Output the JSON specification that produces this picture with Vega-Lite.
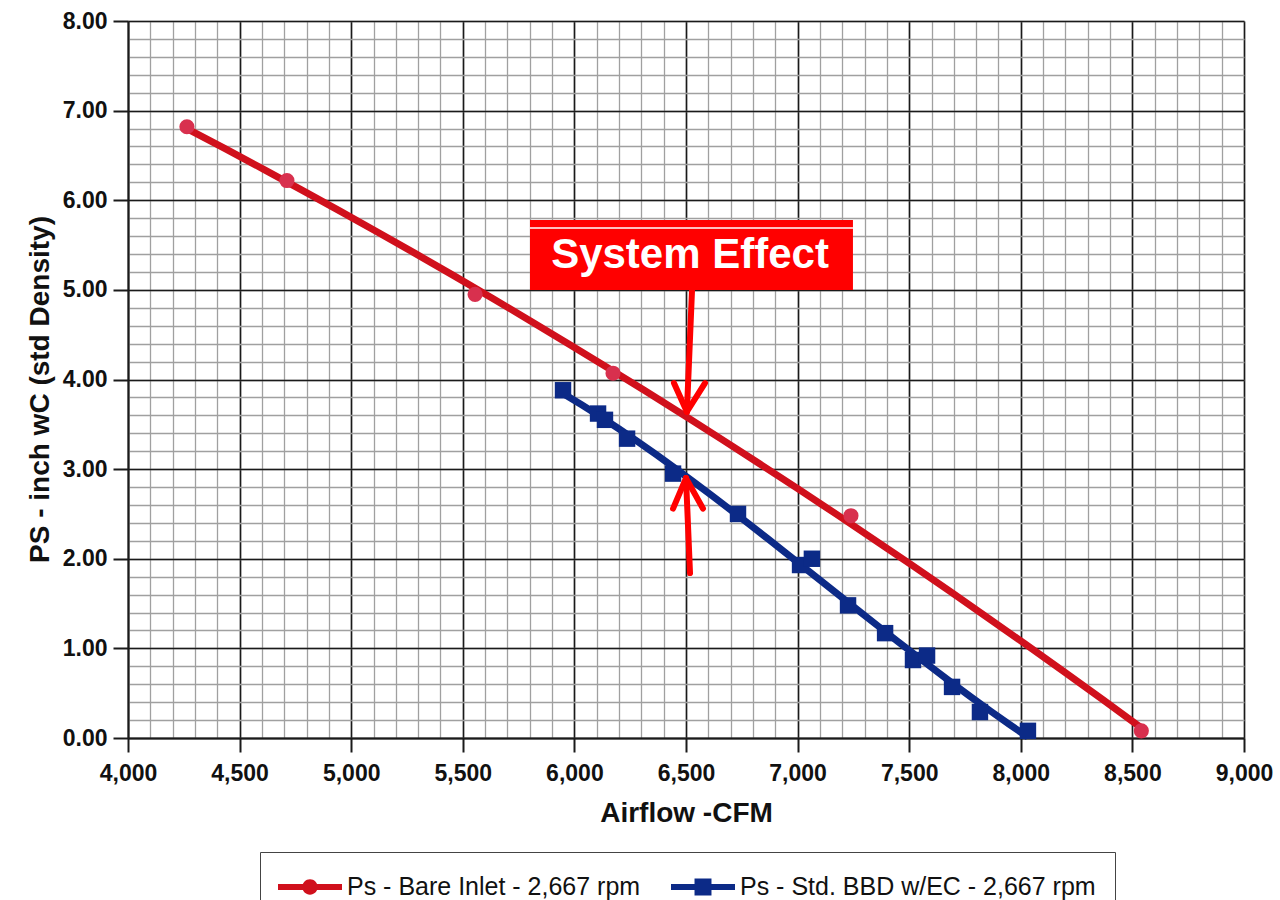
{
  "$schema": "https://vega.github.io/schema/vega-lite/v6.json",
  "autosize": "none",
  "width": 1116,
  "height": 717,
  "padding": {"left": 128, "top": 21, "right": 36, "bottom": 162},
  "background": "white",
  "config": {
    "view": {"stroke": null},
    "axis": {
      "labelFont": "Liberation Sans",
      "labelFontWeight": "bold",
      "labelColor": "#111111",
      "titleFont": "Liberation Sans",
      "titleFontWeight": "bold",
      "titleFontSize": 28,
      "titleColor": "#111111",
      "labelFlush": false,
      "labelBound": false,
      "labelOverlap": false
    },
    "legend": {
      "labelFont": "Liberation Sans",
      "labelFontSize": 25,
      "labelColor": "#111111"
    }
  },
  "datasets": {
    "pts": [
      {"series": "Ps - Bare Inlet - 2,667 rpm", "cfm": 4264, "ps": 6.82},
      {"series": "Ps - Bare Inlet - 2,667 rpm", "cfm": 4712, "ps": 6.22},
      {"series": "Ps - Bare Inlet - 2,667 rpm", "cfm": 5555, "ps": 4.95},
      {"series": "Ps - Bare Inlet - 2,667 rpm", "cfm": 6173, "ps": 4.07},
      {"series": "Ps - Bare Inlet - 2,667 rpm", "cfm": 7239, "ps": 2.48},
      {"series": "Ps - Bare Inlet - 2,667 rpm", "cfm": 8540, "ps": 0.08},
      {"series": "Ps - Std. BBD w/EC - 2,667 rpm", "cfm": 5949, "ps": 3.88},
      {"series": "Ps - Std. BBD w/EC - 2,667 rpm", "cfm": 6106, "ps": 3.62},
      {"series": "Ps - Std. BBD w/EC - 2,667 rpm", "cfm": 6137, "ps": 3.55},
      {"series": "Ps - Std. BBD w/EC - 2,667 rpm", "cfm": 6236, "ps": 3.34},
      {"series": "Ps - Std. BBD w/EC - 2,667 rpm", "cfm": 6442, "ps": 2.95},
      {"series": "Ps - Std. BBD w/EC - 2,667 rpm", "cfm": 6733, "ps": 2.5},
      {"series": "Ps - Std. BBD w/EC - 2,667 rpm", "cfm": 7011, "ps": 1.93},
      {"series": "Ps - Std. BBD w/EC - 2,667 rpm", "cfm": 7064, "ps": 2.0},
      {"series": "Ps - Std. BBD w/EC - 2,667 rpm", "cfm": 7226, "ps": 1.48},
      {"series": "Ps - Std. BBD w/EC - 2,667 rpm", "cfm": 7392, "ps": 1.17},
      {"series": "Ps - Std. BBD w/EC - 2,667 rpm", "cfm": 7517, "ps": 0.87},
      {"series": "Ps - Std. BBD w/EC - 2,667 rpm", "cfm": 7580, "ps": 0.92},
      {"series": "Ps - Std. BBD w/EC - 2,667 rpm", "cfm": 7692, "ps": 0.57},
      {"series": "Ps - Std. BBD w/EC - 2,667 rpm", "cfm": 7817, "ps": 0.29},
      {"series": "Ps - Std. BBD w/EC - 2,667 rpm", "cfm": 8032, "ps": 0.08}
    ],
    "box": [{"cfm": 5801, "cfm2": 7248, "ps": 5.0, "ps2": 5.78}],
    "gap": [{"cfm": 5801, "cfm2": 7248, "ps": 5.69}],
    "label": [{"text": "System Effect", "cfm": 6518, "ps": 5.24}],
    "arrows": [
      {"cfm": 6527, "ps": 5.0, "cfm2": 6504, "ps2": 3.64},
      {"cfm": 6446, "ps": 3.96, "cfm2": 6504, "ps2": 3.64},
      {"cfm": 6585, "ps": 3.96, "cfm2": 6504, "ps2": 3.64},
      {"cfm": 6518, "ps": 1.84, "cfm2": 6500, "ps2": 2.9},
      {"cfm": 6442, "ps": 2.56, "cfm2": 6500, "ps2": 2.9},
      {"cfm": 6576, "ps": 2.56, "cfm2": 6500, "ps2": 2.9}
    ]
  },
  "resolve": {"axis": {"x": "independent", "y": "independent"}},
  "layer": [
    {
      "data": {"name": "pts"},
      "mark": {"type": "point", "filled": true, "opacity": 0},
      "encoding": {
        "x": {
          "field": "cfm", "type": "quantitative",
          "scale": {"domain": [4000, 9000], "nice": false, "zero": false},
          "axis": {
            "orient": "bottom", "title": null, "labels": false, "ticks": false, "domain": false,
            "grid": true, "gridColor": "#a0a0a0", "gridWidth": 1.3,
            "values": [4000,4100,4200,4300,4400,4500,4600,4700,4800,4900,5000,5100,5200,5300,5400,5500,5600,5700,5800,5900,6000,6100,6200,6300,6400,6500,6600,6700,6800,6900,7000,7100,7200,7300,7400,7500,7600,7700,7800,7900,8000,8100,8200,8300,8400,8500,8600,8700,8800,8900,9000]
          }
        },
        "y": {
          "field": "ps", "type": "quantitative",
          "scale": {"domain": [0, 8], "nice": false, "zero": true},
          "axis": {
            "orient": "left", "title": null, "labels": false, "ticks": false, "domain": false,
            "grid": true, "gridColor": "#a0a0a0", "gridWidth": 1.3,
            "values": [0,0.2,0.4,0.6,0.8,1,1.2,1.4,1.6,1.8,2,2.2,2.4,2.6,2.8,3,3.2,3.4,3.6,3.8,4,4.2,4.4,4.6,4.8,5,5.2,5.4,5.6,5.8,6,6.2,6.4,6.6,6.8,7,7.2,7.4,7.6,7.8,8]
          }
        },
        "color": {
          "field": "series", "type": "nominal",
          "scale": {"domain": ["Ps - Bare Inlet - 2,667 rpm", "Ps - Std. BBD w/EC - 2,667 rpm"], "range": ["#d0101c", "#0c2a87"]},
          "legend": {
            "title": null, "orient": "none", "direction": "horizontal",
            "legendX": 132, "legendY": 831,
            "strokeColor": "#444444", "fillColor": "white", "padding": 19,
            "symbolSize": 1024, "symbolOffset": 15, "labelOffset": 21,
            "columnPadding": 30, "symbolOpacity": 1, "symbolStrokeWidth": 0,
            "labelLimit": 600
          }
        },
        "shape": {
          "field": "series", "type": "nominal",
          "scale": {"domain": ["Ps - Bare Inlet - 2,667 rpm", "Ps - Std. BBD w/EC - 2,667 rpm"], "range": ["M-2,-0.18H2V0.18H-2Z M-0.48,0A0.48,0.48 0 1,1 0.48,0A0.48,0.48 0 1,1 -0.48,0Z", "M-2,-0.18H2V0.18H-2Z M-0.53,-0.53H0.53V0.53H-0.53Z"]},
          "legend": {
            "title": null, "orient": "none", "direction": "horizontal",
            "legendX": 132, "legendY": 831,
            "strokeColor": "#444444", "fillColor": "white", "padding": 19,
            "symbolSize": 1024, "symbolOffset": 15, "labelOffset": 21,
            "columnPadding": 30, "symbolOpacity": 1, "symbolStrokeWidth": 0,
            "labelLimit": 600
          }
        }
      }
    },
    {
      "data": {"name": "pts"},
      "transform": [
        {"filter": "datum.series === 'Ps - Bare Inlet - 2,667 rpm'"},
        {"regression": "ps", "on": "cfm", "method": "poly", "order": 2, "extent": [4264, 8540]}
      ],
      "mark": {"type": "line", "color": "#d0101c", "strokeWidth": 7},
      "encoding": {
        "x": {
          "field": "cfm", "type": "quantitative",
          "scale": {"domain": [4000, 9000], "nice": false, "zero": false},
          "axis": {
            "orient": "bottom", "values": [4000,4500,5000,5500,6000,6500,7000,7500,8000,8500,9000],
            "labelExpr": "format(datum.value, ',.0f')",
            "grid": true, "gridColor": "#1a1a1a", "gridWidth": 1.6,
            "domainColor": "#1a1a1a", "domainWidth": 2, "tickColor": "#1a1a1a", "tickWidth": 2, "tickSize": 14,
            "labelFontSize": 23, "labelPadding": 10,
            "title": "Airflow -CFM", "titlePadding": 14
          }
        },
        "y": {
          "field": "ps", "type": "quantitative",
          "scale": {"domain": [0, 8], "nice": false},
          "axis": {
            "orient": "left", "values": [0,1,2,3,4,5,6,7,8],
            "labelExpr": "format(datum.value, '.2f')",
            "grid": true, "gridColor": "#1a1a1a", "gridWidth": 1.6,
            "domainColor": "#1a1a1a", "domainWidth": 2, "tickColor": "#1a1a1a", "tickWidth": 2, "tickSize": 15,
            "labelFontSize": 23, "labelPadding": 6,
            "title": "PS - inch wC (std Density)", "titlePadding": 8, "titleY": 368
          }
        }
      }
    },
    {
      "data": {"name": "pts"},
      "transform": [
        {"filter": "datum.series === 'Ps - Std. BBD w/EC - 2,667 rpm'"},
        {"regression": "ps", "on": "cfm", "method": "poly", "order": 3, "extent": [5949, 8032]}
      ],
      "mark": {"type": "line", "color": "#0c2a87", "strokeWidth": 7},
      "encoding": {
        "x": {"field": "cfm", "type": "quantitative", "scale": {"domain": [4000, 9000], "nice": false, "zero": false}, "axis": null},
        "y": {"field": "ps", "type": "quantitative", "scale": {"domain": [0, 8], "nice": false}, "axis": null}
      }
    },
    {
      "data": {"name": "pts"},
      "transform": [{"filter": "datum.series === 'Ps - Bare Inlet - 2,667 rpm'"}],
      "mark": {"type": "point", "shape": "circle", "filled": true, "size": 230, "color": "#d8304e", "opacity": 1},
      "encoding": {
        "x": {"field": "cfm", "type": "quantitative", "scale": {"domain": [4000, 9000], "nice": false, "zero": false}, "axis": null},
        "y": {"field": "ps", "type": "quantitative", "scale": {"domain": [0, 8], "nice": false}, "axis": null}
      }
    },
    {
      "data": {"name": "pts"},
      "transform": [{"filter": "datum.series === 'Ps - Std. BBD w/EC - 2,667 rpm'"}],
      "mark": {"type": "point", "shape": "square", "filled": true, "size": 270, "color": "#0c2a87", "opacity": 1},
      "encoding": {
        "x": {"field": "cfm", "type": "quantitative", "scale": {"domain": [4000, 9000], "nice": false, "zero": false}, "axis": null},
        "y": {"field": "ps", "type": "quantitative", "scale": {"domain": [0, 8], "nice": false}, "axis": null}
      }
    },
    {
      "data": {"name": "box"},
      "mark": {"type": "rect", "color": "#ff0000"},
      "encoding": {
        "x": {"field": "cfm", "type": "quantitative", "axis": null},
        "x2": {"field": "cfm2"},
        "y": {"field": "ps", "type": "quantitative", "axis": null},
        "y2": {"field": "ps2"}
      }
    },
    {
      "data": {"name": "gap"},
      "mark": {"type": "rule", "color": "white", "strokeWidth": 1.5},
      "encoding": {
        "x": {"field": "cfm", "type": "quantitative", "axis": null},
        "x2": {"field": "cfm2"},
        "y": {"field": "ps", "type": "quantitative", "axis": null}
      }
    },
    {
      "data": {"name": "label"},
      "mark": {"type": "text", "font": "Liberation Sans", "fontWeight": "bold", "fontSize": 42, "color": "white", "align": "center", "baseline": "alphabetic"},
      "encoding": {
        "x": {"field": "cfm", "type": "quantitative", "axis": null},
        "y": {"field": "ps", "type": "quantitative", "axis": null},
        "text": {"field": "text"}
      }
    },
    {
      "data": {"name": "arrows"},
      "mark": {"type": "rule", "color": "#ff0000", "strokeWidth": 6, "strokeCap": "round"},
      "encoding": {
        "x": {"field": "cfm", "type": "quantitative", "axis": null},
        "x2": {"field": "cfm2"},
        "y": {"field": "ps", "type": "quantitative", "axis": null},
        "y2": {"field": "ps2"}
      }
    }
  ]
}
